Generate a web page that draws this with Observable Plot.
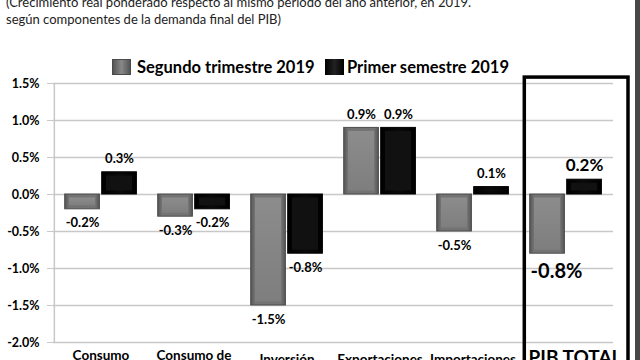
<!DOCTYPE html>
<html>
<head>
<meta charset="utf-8">
<script src="https://cdn.jsdelivr.net/npm/d3@7"></script>
<script src="https://cdn.jsdelivr.net/npm/@observablehq/plot@0.6"></script>
<style>
  html, body { margin: 0; padding: 0; background: #fff; }
  #wrap { position: relative; width: 640px; height: 360px; overflow: hidden; font-family: Lato, "Open Sans", sans-serif; }
  #title { position: absolute; left: 6px; top: -6.5px; font-size: 13px; line-height: 17px; color: #222; white-space: nowrap; }
  .lg { position: absolute; font-weight: bold; font-size: 16.5px; line-height: 20px; color: #000; white-space: nowrap; }
  .sw { position: absolute; width: 19px; height: 16px; box-sizing: border-box; }
  #chart { position: absolute; left: 0; top: 0; }
  #edge { position: absolute; right: 0; top: 0; width: 5px; height: 360px; background: #474747; }
</style>
</head>
<body>
<svg width="0" height="0" style="position:absolute">
  <defs>
    <linearGradient id="gGrey" x1="0" x2="1" y1="0" y2="0">
      <stop offset="0" stop-color="#555555"/>
      <stop offset="0.12" stop-color="#737373"/>
      <stop offset="0.88" stop-color="#737373"/>
      <stop offset="1" stop-color="#555555"/>
    </linearGradient>
    <linearGradient id="gGreyFace" x1="0" x2="0" y1="0" y2="1">
      <stop offset="0" stop-color="#8c8c8c"/>
      <stop offset="1" stop-color="#7e7e7e"/>
    </linearGradient>
    <linearGradient id="gBlack" x1="0" x2="1" y1="0" y2="0">
      <stop offset="0" stop-color="#000000"/>
      <stop offset="0.5" stop-color="#0a0a0a"/>
      <stop offset="1" stop-color="#000000"/>
    </linearGradient>
  </defs>
</svg>
<div id="wrap">
  <div id="title">(Crecimiento real ponderado respecto al mismo período del año anterior, en 2019.<br>según componentes de la demanda final del PIB)</div>
  <div id="chart"></div>
  <div class="sw" style="left:112px; top:59px; background:linear-gradient(90deg,#555,#888 50%,#555); border:1px solid #4a4a4a;"></div>
  <div class="lg" id="lg1" style="left:137px; top:57px;"></div>
  <div class="sw" style="left:325px; top:59px; background:linear-gradient(90deg,#000,#222 50%,#000);"></div>
  <div class="lg" id="lg2" style="left:347px; top:57px;"></div>
  <div id="edge"></div>
</div>
<script>
const categories = ["Consumo", "Consumo de", "Inversión", "Exportaciones", "Importaciones", "PIB TOTAL"];
const segundo = [-0.2, -0.3, -1.5, 0.9, -0.5, -0.8];
const primer = [0.3, -0.2, -0.8, 0.9, 0.1, 0.2];
const seriesNames = ["Segundo trimestre 2019", "Primer semestre 2019"];
const yTicks = [-2, -1.5, -1, -0.5, 0, 0.5, 1, 1.5];

document.getElementById("lg1").textContent = seriesNames[0];
document.getElementById("lg2").textContent = seriesNames[1];

const rows = categories.map((c, i) => ({cat: c, segundo: segundo[i], primer: primer[i]}));
const pct = v => v.toFixed(1) + "%";
const isTotal = r => r.cat === "PIB TOTAL";

function valueLabels(key, dx) {
  const base = rows.filter(r => !isTotal(r));
  const tot = rows.filter(isTotal);
  const common = {x: "cat", y: key, text: d => pct(d[key]), dx, fontWeight: "bold", fill: "#000"};
  return [
    Plot.text(base.filter(r => r[key] >= 0), {...common, dy: -13, fontSize: 13}),
    Plot.text(base.filter(r => r[key] < 0), {...common, dy: 14, fontSize: 13}),
    Plot.text(tot.filter(r => r[key] >= 0), {...common, dy: -14, fontSize: 17}),
    Plot.text(tot.filter(r => r[key] < 0), {...common, dx: dx + 9, dy: 18, fontSize: 20})
  ];
}

const chart = Plot.plot({
  width: 640,
  height: 360,
  marginTop: 83,
  marginBottom: 18,
  marginLeft: 53,
  marginRight: 27,
  style: {fontFamily: "Lato, 'Open Sans', sans-serif", background: "transparent", overflow: "visible"},
  x: {domain: categories, padding: 0, axis: null},
  y: {domain: [-2, 1.5], axis: null},
  marks: [
    Plot.gridY(yTicks, {stroke: "#c8c8c8", strokeOpacity: 1, strokeWidth: 1.5}),
    Plot.axisY({ticks: yTicks, tickFormat: pct, tickSize: 6, tickPadding: 8, stroke: "#c8c8c8", fontWeight: "bold", fontSize: 12.5, fill: "#000"}),
    Plot.ruleX([categories[0]], {x: d => d, dx: -46.67, y1: -2, y2: 1.5, stroke: "#c8c8c8", strokeWidth: 1.5}),
    Plot.barY(rows, {x: "cat", y: "segundo", insetLeft: 10.7, insetRight: 47.6, fill: "url(#gGrey)", stroke: "#4d4d4d", strokeWidth: 1}),
    Plot.barY(rows, {x: "cat", y: "segundo", insetLeft: 15, insetRight: 51.9, insetTop: 3.5, insetBottom: 3.5, fill: "url(#gGreyFace)"}),
    Plot.barY(rows, {x: "cat", y: "primer", insetLeft: 47.7, insetRight: 10.6, fill: "url(#gBlack)", stroke: "#000", strokeWidth: 1}),
    Plot.barY(rows, {x: "cat", y: "primer", insetLeft: 52, insetRight: 14.9, insetTop: 3.5, insetBottom: 3.5, fill: "#111"}),
    ...valueLabels("segundo", -18.5),
    ...valueLabels("primer", 18.5),
    Plot.text(rows.filter(r => r.cat.startsWith("Consumo")), {x: "cat", y: -2, text: "cat", lineAnchor: "top", dy: 8, fontWeight: "bold", fontSize: 13.5, fill: "#000"}),
    Plot.text(rows.filter(r => !r.cat.startsWith("Consumo") && !isTotal(r)), {x: "cat", y: -2, text: "cat", lineAnchor: "top", dy: 12, fontWeight: "bold", fontSize: 13.5, fill: "#000"}),
    Plot.text(rows.filter(isTotal), {x: "cat", y: -2, text: "cat", lineAnchor: "top", dy: 8, dx: 9, fontWeight: "bold", fontSize: 19, fill: "#000"}),
    Plot.barY(rows.filter(isTotal), {x: "cat", y1: 1.58, y2: -2.5, insetLeft: 5.3, insetRight: -16, fill: "none", stroke: "#000", strokeWidth: 3.5})
  ]
});
document.getElementById("chart").appendChild(chart);
</script>
</body>
</html>
